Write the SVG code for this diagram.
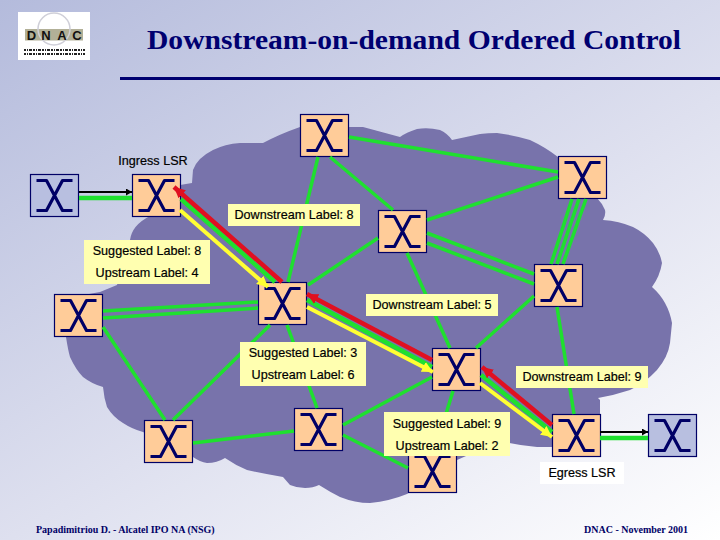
<svg xmlns="http://www.w3.org/2000/svg" width="720" height="540" viewBox="0 0 720 540">
<style>
.lsr{stroke:#000066;stroke-width:1.2}
.peach{fill:#ffcc99}
.blue{fill:#b8bfe0}
.x{fill:none;stroke:#000066;stroke-width:3.200;stroke-linejoin:round}
.g{stroke:#1fe02f;stroke-width:3.500;fill:none}
.gt{stroke:#1fe02f;stroke-width:4.500;fill:none}
.r{stroke:#e01020;stroke-width:4.500;fill:none;marker-end:url(#hr)}
.y{stroke:#ffff33;stroke-width:4;fill:none;marker-end:url(#hy)}
.k{stroke:#000;stroke-width:2.200;fill:none;marker-end:url(#hk)}
.lab{fill:#ffffb0}
text{font-family:"Liberation Sans",Arial,sans-serif}
.t{font-size:12.600px;fill:#000;stroke:#000;stroke-width:.2;text-anchor:middle}
.foot{font-family:"Liberation Serif","Times New Roman",serif;font-size:10px;font-weight:bold;fill:#000066}
</style>
<defs>
<linearGradient id="bg" gradientUnits="userSpaceOnUse" x1="0" y1="0" x2="445" y2="712">
<stop offset="0" stop-color="#b4bbdc"/><stop offset="0.55" stop-color="#dee0ef"/><stop offset="1" stop-color="#ffffff"/>
</linearGradient>
<marker id="hr" markerUnits="userSpaceOnUse" markerWidth="12" markerHeight="11" refX="11" refY="5.500" orient="auto"><path d="M0 0L11 5.500L0 11z" fill="#e01020"/></marker>
<marker id="hy" markerUnits="userSpaceOnUse" markerWidth="12" markerHeight="11" refX="11" refY="5.500" orient="auto"><path d="M0 0L11 5.500L0 11z" fill="#ffff33"/></marker>
<marker id="hk" markerUnits="userSpaceOnUse" markerWidth="7" markerHeight="7" refX="6" refY="3.500" orient="auto"><path d="M0 0L6 3.500L0 7z" fill="#000"/></marker>
<g id="xs"><path class="x" d="M6 6H16L32 36H42M42 6H32L16 36H6"/></g>
</defs>
<rect width="720" height="540" fill="url(#bg)"/>
<path id="cloud" fill="#7873ab" d="M240 143Q225 144 213 150Q197 158 193 170L192 183L180 185L150 216Q132 225 130 240L117 285L100 292Q80 295 66 300V337Q68 350 70 357Q76 370 83 377Q92 384 103 387Q104 398 107 407Q113 417 123 423Q132 429 143 432L193 457Q200 462 207 463Q217 463 225 458Q235 465 247 470Q265 474 283 477L290 485Q297 488 305 488Q313 488 319 485Q330 492 340 497Q355 503 370 503Q390 501 407 494L457 460L500 441Q520 446 537 447L552 447H600V400L598 398Q615 395 630 390Q645 383 657 370Q668 357 670 343L672 323Q670 312 665 303Q660 294 652 287Q660 276 662 263Q660 252 653 243Q645 233 633 227Q619 221 603 220Q606 215 605 210Q602 203 597 198L558 157Q545 147 530 140Q514 135 497 133Q488 133 480 134L452 140Q447 133 440 130Q428 127 417 129Q407 132 400 137L363 127L349 127H300Q280 134 263 143Z"/>
<g id="n-left-outer"><rect class="lsr blue" x="30.500" y="174.500" width="48" height="42"/><use href="#xs" x="30.500" y="174.500"/></g>
<g id="n-ingress"><rect class="lsr peach" x="132.500" y="174.500" width="48" height="42"/><use href="#xs" x="132.500" y="174.500"/></g>
<g id="n-top"><rect class="lsr peach" x="300.500" y="114.500" width="48" height="42"/><use href="#xs" x="300.500" y="114.500"/></g>
<g id="n-righttop"><rect class="lsr peach" x="558.500" y="156.500" width="48" height="42"/><use href="#xs" x="558.500" y="156.500"/></g>
<g id="n-middle"><rect class="lsr peach" x="378.500" y="210.500" width="48" height="42"/><use href="#xs" x="378.500" y="210.500"/></g>
<g id="n-rightmid"><rect class="lsr peach" x="534.500" y="264.500" width="48" height="42"/><use href="#xs" x="534.500" y="264.500"/></g>
<g id="n-centerleft"><rect class="lsr peach" x="258.500" y="282.500" width="48" height="42"/><use href="#xs" x="258.500" y="282.500"/></g>
<g id="n-left"><rect class="lsr peach" x="54.500" y="294.500" width="48" height="42"/><use href="#xs" x="54.500" y="294.500"/></g>
<g id="n-bottomleft"><rect class="lsr peach" x="144.500" y="420.500" width="48" height="42"/><use href="#xs" x="144.500" y="420.500"/></g>
<g id="n-bottommid"><rect class="lsr peach" x="294.500" y="408.500" width="48" height="42"/><use href="#xs" x="294.500" y="408.500"/></g>
<g id="n-center"><rect class="lsr peach" x="432.500" y="348.500" width="48" height="42"/><use href="#xs" x="432.500" y="348.500"/></g>
<g id="n-bottomcenter"><rect class="lsr peach" x="408.500" y="450.500" width="48" height="42"/><use href="#xs" x="408.500" y="450.500"/></g>
<g id="n-egress"><rect class="lsr peach" x="552.500" y="414.500" width="48" height="42"/><use href="#xs" x="552.500" y="414.500"/></g>
<g id="n-right-outer"><rect class="lsr blue" x="648.500" y="414.500" width="48" height="42"/><use href="#xs" x="648.500" y="414.500"/></g>
<g id="connectors">
<path class="g" d="M349 137L558 172M318 157L288 282M330 157L393 210M427 220L558 177M378 238L308 285M427 233L534 274M427 243L534 284M407 253L450 348M572 199L551 264M579 199L557 264M586 199L563 264M534 296L476 348M557 307L574 414M103 311L258 302M103 318L258 308M103 327L165 420M270 325L173 420M287 325L317 408M193 443L294 431M343 425L432 377M343 435L408 468M453 391L435 450"/>
<path class="gt" d="M79 198H132M600 438H648M181 199L275 282M307 300L432 367M481 375L552 432"/>
<path class="y" d="M180 210L268 287"/>
<path class="r" d="M282 282L174 187"/>
<path class="y" d="M307 307L433 372"/>
<path class="r" d="M432 360L307 294"/>
<path class="y" d="M480 383L552 437"/>
<path class="r" d="M552 425L482 367"/>
<path class="k" d="M79 192H132"/>
<path class="k" d="M600 432H648"/>
</g>
<g id="labels">
<rect class="lab" x="228" y="204" width="132" height="22"/><text class="t" x="294" y="219">Downstream Label: 8</text>
<rect class="lab" x="84" y="240" width="126" height="44"/><text class="t" x="147" y="255">Suggested Label: 8</text><text class="t" x="147" y="277">Upstream Label: 4</text>
<rect class="lab" x="366" y="294" width="132" height="22"/><text class="t" x="432" y="309">Downstream Label: 5</text>
<rect class="lab" x="240" y="342" width="126" height="44"/><text class="t" x="303" y="357">Suggested Label: 3</text><text class="t" x="303" y="379">Upstream Label: 6</text>
<rect class="lab" x="516" y="366" width="132" height="22"/><text class="t" x="582" y="381">Downstream Label: 9</text>
<rect class="lab" x="384" y="412" width="126" height="44"/><text class="t" x="447" y="428">Suggested Label: 9</text><text class="t" x="447" y="450">Upstream Label: 2</text>
<text class="t" x="153" y="165">Ingress LSR</text>
<rect x="540" y="462" width="84" height="22" fill="#fff"/><text class="t" x="582" y="477">Egress LSR</text>
</g>
<text x="147" y="49" font-size="27" font-weight="bold" fill="#000070" style="font-family:'Liberation Serif','Times New Roman',serif" textLength="534" lengthAdjust="spacingAndGlyphs">Downstream-on-demand Ordered Control</text>
<rect x="120" y="77" width="600" height="3" fill="#000070"/>
<g id="logo">
<rect x="18" y="12" width="72" height="48" fill="#fff"/>
<rect x="25" y="29" width="58" height="11.500" fill="#b2b097"/>
<circle cx="54" cy="29" r="16" fill="none" stroke="#cfcfd8" stroke-width="1.500"/>
<text x="31.500" y="39.500" font-size="13" font-weight="bold" fill="#111" text-anchor="middle">D</text>
<text x="46" y="39.500" font-size="13" font-weight="bold" fill="#111" text-anchor="middle">N</text>
<text x="62" y="39.500" font-size="13" font-weight="bold" fill="#111" text-anchor="middle">A</text>
<text x="77" y="39.500" font-size="13" font-weight="bold" fill="#111" text-anchor="middle">C</text>
<path d="M24 50H85M24 54H85" stroke="#222" stroke-width="2" stroke-dasharray="2 1 1 1 3 1"/>
</g>
<text class="foot" x="36" y="533">Papadimitriou D. - Alcatel IPO NA (NSG)</text>
<text class="foot" x="584" y="533">DNAC - November 2001</text>
</svg>
